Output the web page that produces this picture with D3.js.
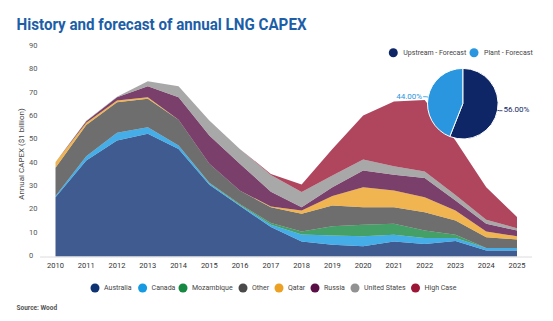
<!DOCTYPE html>
<html>
<head>
  <meta charset="utf-8">
  <title>LNG CAPEX</title>
  <style>
    body { margin: 0; background: #fff; }
    svg text { font-family: Roboto, "Noto Sans", sans-serif; }
  </style>
  <script src="https://d3js.org/d3.v7.min.js"></script>
</head>
<body>
  <svg id="chart" width="553" height="321"></svg>
  <script>
    // values ($ billion)
    const years = [2010, 2011, 2012, 2013, 2014, 2015, 2016, 2017, 2018, 2019, 2020, 2021, 2022, 2023, 2024, 2025]
    const australia    = [25.4, 41.1, 49.7, 52.6, 46.1, 30.7, 21.6, 12.6, 6.4, 5.0, 4.4, 6.4, 5.4, 6.6, 2.6, 2.6]
    const canada       = [0.5, 1.9, 3.3, 2.8, 1.5, 0.7, 0.4, 1.0, 3.0, 4.0, 4.3, 2.9, 2.5, 1.3, 1.0, 1.0]
    const mozambique   = [0, 0, 0, 0, 0, 0.2, 0.4, 0.8, 1.3, 4.0, 4.9, 4.7, 3.2, 1.4, 0, 0]
    const other        = [12.1, 13.4, 13.1, 12.2, 11.0, 8.1, 5.8, 6.7, 7.6, 8.9, 7.5, 7.1, 7.9, 6.1, 4.7, 3.7]
    const qatar        = [2.4, 0.9, 0.8, 0.7, 0, 0, 0, 0.3, 1.4, 4.0, 8.6, 7.2, 6.4, 4.3, 2.4, 1.4]
    const russia       = [0, 0.7, 1.4, 4.7, 9.7, 12.2, 11.4, 6.4, 1.4, 3.8, 7.2, 6.7, 8.2, 4.3, 3.3, 2.4]
    const unitedStates = [0, 0.2, 0.2, 2.1, 4.7, 6.4, 6.4, 7.1, 6.5, 5.0, 4.7, 3.7, 2.8, 2.4, 1.7, 1.0]
    const highCase     = [0, 0, 0, 0, 0, 0, 0, 0.5, 3.3, 11.4, 18.8, 27.7, 30.7, 23.3, 14.0, 4.8]

    const seriesNames = ["Australia", "Canada", "Mozambique", "Other", "Qatar", "Russia", "United States", "High Case"]
    const seriesColors = ["#0f3273", "#169ae2", "#168842", "#4a4a4a", "#eca124", "#590f45", "#929292", "#9c1636"]
    const yTicks = [0, 10, 20, 30, 40, 50, 60, 70, 80, 90]

    const pieLabels = ["Upstream - Forecast", "Plant - Forecast"]
    const pieValues = [56, 44]
    const pieColors = ["#0e2665", "#2a96df"]

    const svg = d3.select("#chart")

    // build rows for the stack
    const allSeries = [australia, canada, mozambique, other, qatar, russia, unitedStates, highCase]
    const rows = years.map((yr, i) => {
      const r = { year: yr }
      seriesNames.forEach((n, j) => { r[n] = allSeries[j][i] })
      return r
    })
    const stacked = d3.stack().keys(seriesNames)(rows)

    const x = d3.scaleLinear().domain([2010, 2025]).range([55.5, 517])
    const y = d3.scaleLinear().domain([0, 90]).range([256.5, 46.5])

    // title
    svg.append("text")
      .attr("x", 16.5).attr("y", 30)
      .attr("font-size", 16).attr("font-weight", "bold")
      .attr("fill", "#1c5ea8")
      .attr("textLength", 290).attr("lengthAdjust", "spacingAndGlyphs")
      .text("History and forecast of annual LNG CAPEX")

    // areas
    const area = d3.area()
      .x(d => x(d.data.year))
      .y0(d => y(d[0]))
      .y1(d => y(d[1]))

    svg.append("g")
      .selectAll("path")
      .data(stacked)
      .join("path")
      .attr("d", area)
      .attr("fill", (d, i) => seriesColors[i])
      .attr("fill-opacity", 0.8)

    // baseline
    svg.append("line")
      .attr("x1", 40).attr("x2", 532)
      .attr("y1", y(0) + 0.5).attr("y2", y(0) + 0.5)
      .attr("stroke", "#dcdcdc")

    // y tick labels
    svg.append("g")
      .selectAll("text")
      .data(yTicks)
      .join("text")
      .attr("x", 29)
      .attr("y", d => y(d) - 1)
      .attr("dy", "0.35em")
      .attr("font-size", 7.5)
      .attr("fill", "#555")
      .text(d => d)

    // x tick labels
    svg.append("g")
      .selectAll("text")
      .data(years)
      .join("text")
      .attr("x", d => x(d))
      .attr("y", 265)
      .attr("dy", "0.35em")
      .attr("text-anchor", "middle")
      .attr("font-size", 7.5)
      .attr("fill", "#333")
      .text(d => d)

    // y axis title
    svg.append("text")
      .attr("transform", "translate(21,154) rotate(-90)")
      .attr("text-anchor", "middle")
      .attr("dy", "0.35em")
      .attr("font-size", 8)
      .attr("fill", "#444")
      .text("Annual CAPEX ($1 billion)")

    // bottom legend
    const legendX = [95, 142.6, 183, 243, 279, 315, 355, 415.5]
    const leg = svg.append("g")
      .selectAll("g")
      .data(seriesNames)
      .join("g")
      .attr("transform", (d, i) => `translate(${legendX[i]},288)`)
    leg.append("circle").attr("r", 4.5).attr("fill", (d, i) => seriesColors[i])
    leg.append("text")
      .attr("x", 9).attr("dy", "0.35em")
      .attr("font-size", 7).attr("fill", "#444")
      .text(d => d)

    // source
    svg.append("text")
      .attr("x", 16.5).attr("y", 308).attr("dy", "0.35em")
      .attr("font-size", 6.5).attr("font-weight", "bold").attr("fill", "#555")
      .text("Source: Wood")

    // pie
    const cx = 462.8, cy = 103.7, r = 35.3
    const pieData = d3.pie().sort(null)(pieValues)
    const arc = d3.arc().innerRadius(0).outerRadius(r)
    const pg = svg.append("g").attr("transform", `translate(${cx},${cy})`)
    pg.selectAll("path")
      .data(pieData)
      .join("path")
      .attr("d", arc)
      .attr("fill", (d, i) => pieColors[i])
      .attr("stroke", "#fff")
      .attr("stroke-width", 1)

    // pie labels with leader lines
    pieData.forEach((d, i) => {
      const a = (d.startAngle + d.endAngle) / 2
      const px = Math.sin(a), py = -Math.cos(a)
      const p1 = [px * r, py * r]
      const p2 = [px * (r + 2), py * (r + 2)]
      const side = px >= 0 ? 1 : -1
      const p3 = [p2[0] + side * 3, p2[1]]
      pg.append("polyline")
        .attr("points", [p1, p2, p3].map(p => p.join(",")).join(" "))
        .attr("fill", "none")
        .attr("stroke", pieColors[i])
        .attr("stroke-width", 0.8)
      pg.append("text")
        .attr("x", p3[0] + side * 1)
        .attr("y", p3[1] - 1)
        .attr("dy", "0.35em")
        .attr("text-anchor", side > 0 ? "start" : "end")
        .attr("font-size", 8)
        .attr("fill", pieColors[i])
        .text(d3.format(".2f")(pieValues[i]) + "%")
    })

    // pie legend
    const pieLegX = [393.3, 474]
    const pl = svg.append("g")
      .selectAll("g")
      .data(pieLabels)
      .join("g")
      .attr("transform", (d, i) => `translate(${pieLegX[i]},52.7)`)
    pl.append("circle").attr("r", 4.5).attr("fill", (d, i) => pieColors[i])
    pl.append("text")
      .attr("x", 10).attr("dy", "0.35em")
      .attr("font-size", 7).attr("fill", "#444")
      .text(d => d)
  </script>
</body>
</html>
